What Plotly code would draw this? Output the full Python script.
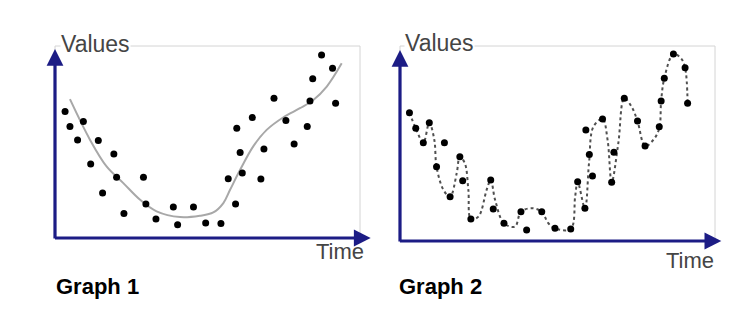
import plotly.graph_objects as go

# Graph 1: data points and smooth fit
g1_x = [0.33, 0.49, 0.93, 0.74, 1.42, 1.17, 1.93, 2.02, 1.56, 2.26, 2.90, 2.98, 3.31, 3.88, 4.02,
        4.54, 4.94, 5.44, 5.68, 5.92, 5.96, 6.07, 6.14, 6.47, 6.75, 6.85, 7.18, 7.57, 7.84, 8.27,
        8.36, 8.45, 8.74, 9.10, 9.20]
g1_y = [6.59, 5.81, 6.07, 5.11, 5.08, 3.86, 4.37, 3.17, 2.34, 1.27, 3.17, 1.77, 0.99, 1.61, 0.69,
        1.61, 0.78, 0.75, 3.08, 1.77, 5.72, 4.45, 3.38, 6.27, 3.07, 4.63, 7.28, 6.12, 4.90, 5.81,
        7.14, 8.30, 9.53, 8.84, 7.02]
g1_fit_x = [0.49, 1.15, 1.69, 2.24, 2.79, 3.33, 4.10, 4.75, 5.19, 5.52, 5.74, 6.07, 6.50, 6.94,
            7.49, 8.03, 8.47, 8.91, 9.40]
g1_fit_y = [7.23, 5.11, 3.73, 2.86, 1.99, 1.39, 1.09, 1.16, 1.33, 1.82, 2.51, 3.55, 4.77, 5.63,
            6.29, 6.76, 7.19, 7.89, 9.10]

# Graph 2: data points and overfit curve
g2_x = [0.30, 0.50, 0.74, 0.93, 1.41, 1.16, 1.90, 1.99, 1.59, 2.25, 2.88, 2.96, 3.30, 3.84, 4.02,
        4.50, 4.92, 5.42, 5.64, 5.87, 5.90, 6.01, 6.11, 6.43, 6.72, 6.79, 7.12, 7.54, 7.78, 8.23,
        8.29, 8.39, 8.68, 9.05, 9.13]
g2_y = [6.58, 5.78, 5.04, 6.07, 5.04, 3.81, 4.32, 3.09, 2.27, 1.13, 3.13, 1.64, 0.91, 1.50, 0.56,
        1.50, 0.65, 0.62, 3.04, 1.68, 5.69, 4.44, 3.33, 6.26, 3.01, 4.55, 7.32, 6.15, 4.87, 5.86,
        7.18, 8.34, 9.59, 8.89, 7.06]
g2_fit_x = [0.30, 0.50, 0.74, 0.93, 1.09, 1.16, 1.38, 1.59, 1.80, 1.90, 2.06, 2.17, 2.25, 2.49,
            2.75, 2.88, 3.02, 3.30, 3.65, 3.84, 4.18, 4.50, 4.71, 4.92, 5.42, 5.56, 5.64, 5.87,
            6.00, 6.14, 6.43, 6.59, 6.72, 6.93, 7.12, 7.35, 7.54, 7.78, 8.04, 8.23, 8.29, 8.39,
            8.68, 8.92, 9.05, 9.13]
g2_fit_y = [6.58, 5.78, 5.04, 6.07, 5.18, 3.81, 2.62, 2.27, 3.47, 4.32, 3.98, 2.62, 1.13, 1.25,
            2.62, 3.13, 2.10, 0.91, 0.74, 1.50, 1.68, 1.50, 0.91, 0.65, 0.62, 2.27, 3.04, 1.68,
            3.98, 5.86, 6.26, 5.18, 3.01, 5.01, 7.32, 6.89, 6.15, 4.87, 5.18, 5.78, 7.18, 8.34,
            9.59, 9.37, 8.89, 7.06]

axis_title_y = "Values"
axis_title_x = "Time"
panel_titles = ["Graph 1", "Graph 2"]

W, H = 752, 323
NAVY = "#1c1c85"

fig = go.Figure()
fig.add_trace(go.Scatter(x=g1_fit_x, y=g1_fit_y, mode="lines",
                         line=dict(color="#a8a8a8", width=2, shape="spline", smoothing=1.0),
                         xaxis="x", yaxis="y", hoverinfo="skip"))
fig.add_trace(go.Scatter(x=g1_x, y=g1_y, mode="markers",
                         marker=dict(color="black", size=7), xaxis="x", yaxis="y"))
fig.add_trace(go.Scatter(x=g2_fit_x, y=g2_fit_y, mode="lines",
                         line=dict(color="#505050", width=2, dash="dot", shape="spline", smoothing=1.0),
                         xaxis="x2", yaxis="y2", hoverinfo="skip"))
fig.add_trace(go.Scatter(x=g2_x, y=g2_y, mode="markers",
                         marker=dict(color="black", size=7), xaxis="x2", yaxis="y2"))

def px_x(p):
    return p / W

def px_y(p):
    return (H - p) / H

ax_common = dict(showgrid=False, zeroline=False, showticklabels=False, ticks="", showline=False,
                 range=[0, 10], fixedrange=True)

fig.update_layout(
    width=W, height=H, margin=dict(l=0, r=0, t=0, b=0),
    paper_bgcolor="white", plot_bgcolor="white", showlegend=False,
    xaxis=dict(domain=[px_x(55), px_x(360)], anchor="y", **ax_common),
    yaxis=dict(domain=[px_y(238), px_y(46)], anchor="x", **ax_common),
    xaxis2=dict(domain=[px_x(400), px_x(715)], anchor="y2", **ax_common),
    yaxis2=dict(domain=[px_y(241), px_y(46)], anchor="x2", **ax_common),
)

shapes = []
annotations = []
panels = [("x", "y", (60, 44), (314, 251), (54, 286), (1.035, 0.985)),
          ("x2", "y2", (404, 43), (664, 260), (397, 286), (1.02, 0.98))]
for i, (xa, ya, vpos, tpos, gpos, tips) in enumerate(panels):
    shapes.append(dict(type="rect", xref=f"{xa} domain", yref=f"{ya} domain",
                       x0=0, x1=1, y0=0, y1=1, line=dict(color="#d4d4d4", width=1), layer="below"))
    # axis arrows
    annotations.append(dict(xref=f"{xa} domain", yref=f"{ya} domain", axref=f"{xa} domain",
                            ayref=f"{ya} domain", x=tips[0], y=0, ax=-0.005, ay=0, text="",
                            showarrow=True, arrowhead=2, arrowsize=1.05, arrowwidth=3.2,
                            arrowcolor=NAVY, standoff=0, startstandoff=0))
    annotations.append(dict(xref=f"{xa} domain", yref=f"{ya} domain", axref=f"{xa} domain",
                            ayref=f"{ya} domain", x=0, y=tips[1], ax=0, ay=-0.01, text="",
                            showarrow=True, arrowhead=2, arrowsize=1.05, arrowwidth=3.2,
                            arrowcolor=NAVY, standoff=0, startstandoff=0))
    annotations.append(dict(xref="paper", yref="paper", x=px_x(vpos[0]), y=px_y(vpos[1]),
                            xanchor="left", yanchor="middle", text=axis_title_y, showarrow=False,
                            bgcolor="white", borderpad=0,
                            font=dict(family="Liberation Sans, Arial", size=23, color="#454545")))
    annotations.append(dict(xref="paper", yref="paper", x=px_x(tpos[0]), y=px_y(tpos[1]),
                            xanchor="left", yanchor="middle", text=axis_title_x, showarrow=False,
                            font=dict(family="Liberation Sans, Arial", size=22, color="#454545")))
    annotations.append(dict(xref="paper", yref="paper", x=px_x(gpos[0]), y=px_y(gpos[1]),
                            xanchor="left", yanchor="middle", text=f"<b>{panel_titles[i]}</b>",
                            showarrow=False,
                            font=dict(family="Liberation Sans, Arial", size=22, color="black")))

fig.update_layout(shapes=shapes, annotations=annotations)
fig.write_html("out.html")
